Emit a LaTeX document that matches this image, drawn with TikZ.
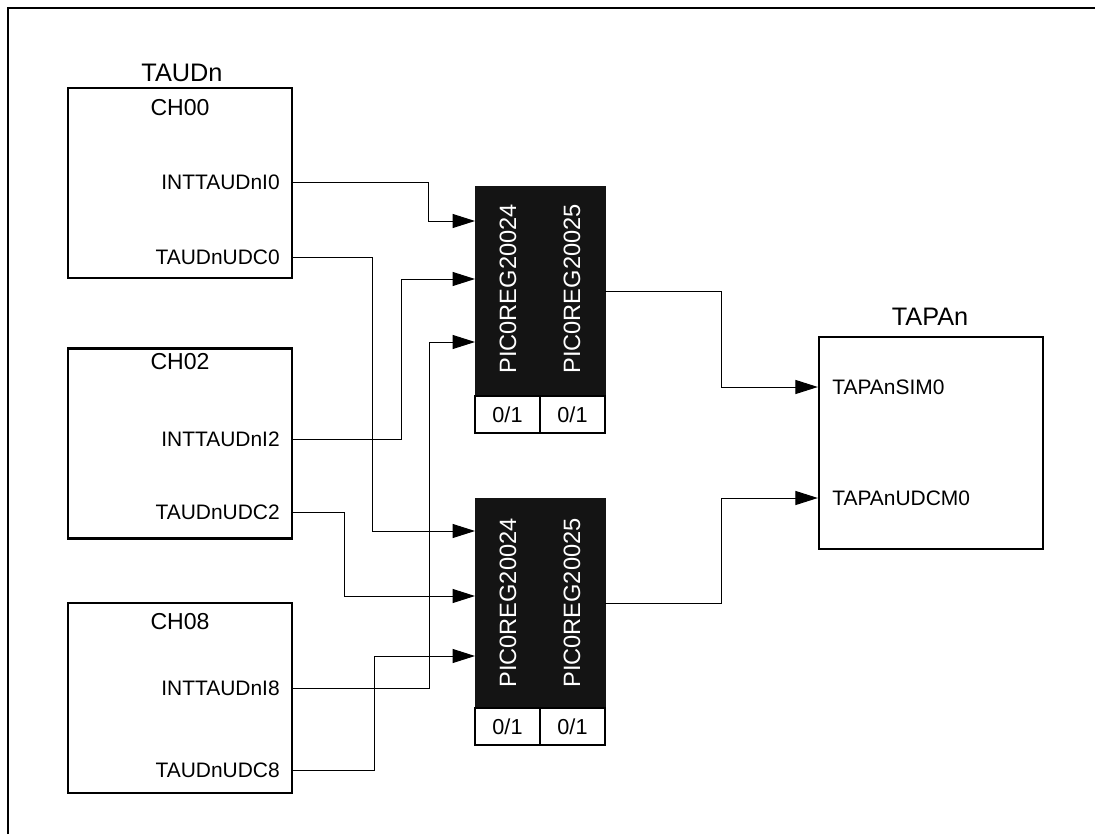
\documentclass[tikz,border=0pt]{standalone}
\usepackage{fontspec}
\setmainfont{Liberation Sans}
\usetikzlibrary{positioning,arrows.meta}

\begin{document}
\begin{tikzpicture}[x=0.025cm, y=-0.025cm,
  chbox/.style={draw, line width=1.6pt, minimum width=5.6cm, minimum height=4.75cm},
  title/.style={font=\fontsize{18}{20}\selectfont, inner sep=0},
  chname/.style={font=\fontsize{16.4}{19}\selectfont, inner sep=0},
  port/.style={font=\fontsize{14.9}{17}\selectfont, inner sep=0},
  picblk/.style={fill=black!92, draw=black!92, minimum width=3.25cm, minimum height=5.25cm},
  reg/.style={rotate=90, text=white, font=\fontsize{16.8}{19}\selectfont, inner sep=0},
  cell/.style={draw, line width=1.4pt, minimum width=1.625cm, minimum height=0.925cm,
    font=\fontsize{15.4}{18}\selectfont, inner sep=0},
  wire/.style={line width=0.7pt, -{Triangle[length=16pt,width=10pt]}}
]
\useasboundingbox (0,0) rectangle (1095,834);
\draw[line width=1.9pt] (8,834) -- (8,8) -- (1095,8);

% TAUDn channels
\node[title] (taud) at (182,73) {TAUDn};
\node[chbox] (ch00) at (180,183) {};
\node[chbox] (ch02) at (180,443.5) {};
\node[chbox] (ch08) at (180,698) {};
\node[chname] at (180,108) {CH00};
\node[chname] at (180,362) {CH02};
\node[chname] at (180,622) {CH08};
\node[port, anchor=east] (i0) at (280,182) {INTTAUDnI0};
\node[port, anchor=east] (u0) at (280,257) {TAUDnUDC0};
\node[port, anchor=east] (i2) at (280,439) {INTTAUDnI2};
\node[port, anchor=east] (u2) at (280,512) {TAUDnUDC2};
\node[port, anchor=east] (i8) at (280,688) {INTTAUDnI8};
\node[port, anchor=east] (u8) at (280,770) {TAUDnUDC8};

% selector registers
\node[picblk] (up) at (540,291) {};
\node[picblk] (lo) at (540,603.5) {};
\node[reg] at (508,289) {PIC0REG20024};
\node[reg] at (572,289) {PIC0REG20025};
\node[reg] at (508,603) {PIC0REG20024};
\node[reg] at (572,603) {PIC0REG20025};
\node[cell] (uc1) at (507.5,414.5) {0/1};
\node[cell] (uc2) at (572.5,414.5) {0/1};
\node[cell] (lc1) at (507.5,726.5) {0/1};
\node[cell] (lc2) at (572.5,726.5) {0/1};
\coordinate (ua1) at (475,221);
\coordinate (ua2) at (475,279);
\coordinate (ua3) at (475,342);
\coordinate (la1) at (475,531);
\coordinate (la2) at (475,596);
\coordinate (la3) at (475,656);

% TAPAn
\node[chbox, minimum height=5.3cm] (tapa) at (931,443) {};
\node[title] at (930,317) {TAPAn};
\node[port, anchor=west] (sim) at (832,387) {TAPAnSIM0};
\node[port, anchor=west] (udcm) at (832,498) {TAPAnUDCM0};

\foreach \c/\p/\x/\t in {ch00/i0/428/ua1, ch00/u0/372/la1, ch02/i2/401/ua2,
  ch02/u2/344/la2, ch08/i8/429/ua3, ch08/u8/374/la3}
  \draw[wire] (\c.east |- \p) -| (\x,0 |- \t) -- (\t);
\draw[wire] (up.east) -| (721,0 |- sim) -- (tapa.west |- sim);
\draw[wire] (lo.east) -| (721,0 |- udcm) -- (tapa.west |- udcm);
\end{tikzpicture}
\end{document}
